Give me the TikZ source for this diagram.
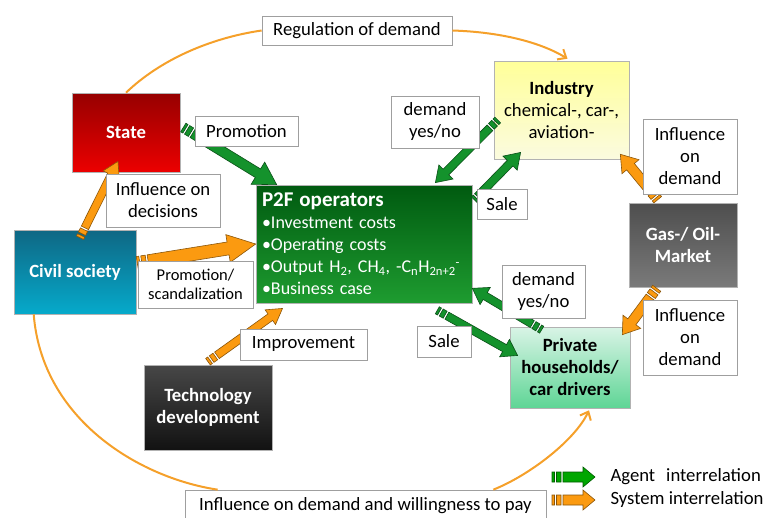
\documentclass[tikz,border=0pt]{standalone}
\usepackage{fontspec}
\setmainfont{Carlito}
\usetikzlibrary{calc, arrows.meta}

\definecolor{orangeline}{HTML}{F5A02A}
\definecolor{agentgreen}{HTML}{14922C}
\definecolor{systemorange}{HTML}{FB9A10}
\definecolor{stateTop}{HTML}{960000}
\definecolor{stateBot}{HTML}{EC0000}
\definecolor{civilTop}{HTML}{0E6784}
\definecolor{civilBot}{HTML}{06AACB}
\definecolor{techTop}{HTML}{474747}
\definecolor{techBot}{HTML}{121212}
\definecolor{gasTop}{HTML}{4E4E4E}
\definecolor{gasBot}{HTML}{7A7A7A}
\definecolor{indTop}{HTML}{FFFF99}
\definecolor{indBot}{HTML}{FBFBDF}
\definecolor{privTop}{HTML}{D9F4E6}
\definecolor{privBot}{HTML}{5ED595}
\definecolor{ptfTop}{HTML}{005A10}
\definecolor{ptfBot}{HTML}{1E9C30}

\tikzset{
  lbl/.style={draw=gray!75, fill=white, line width=0.7pt, align=center, inner sep=0pt, font=\fontsize{18.7}{22}\selectfont},
  actor/.style={draw=gray!60, line width=0.6pt, align=center, font=\fontsize{18.7}{22}\selectfont\bfseries},
  curve/.style={orangeline, line width=2pt},
}

% striped arrow: tail, tip, colour, body half width, head half width, head length
\newcommand{\sarrow}[6]{%
  \path let \p1=#1, \p2=#2 in \pgfextra{%
    \pgfmathsetmacro\saang{atan2((\y2)-(\y1),(\x2)-(\x1))}%
    \pgfmathsetmacro\salen{veclen((\x2)-(\x1),(\y2)-(\y1))}%
    \xdef\saang{\saang}\xdef\salen{\salen}\xdef\sax{\x1}\xdef\say{\y1}};
  \begin{scope}[shift={(\sax,\say)}, rotate=\saang, x=1pt, y=1pt]
    \filldraw[fill=#3, draw=#3!55!black, line width=0.6pt]
      (0,-#4) rectangle (2.5,#4)
      (4.5,-#4) rectangle (9,#4)
      (11,-#4) -- ({\salen-#6},-#4) -- ({\salen-#6},-#5) -- (\salen,0)
      -- ({\salen-#6},#5) -- ({\salen-#6},#4) -- (11,#4) -- cycle;
  \end{scope}}

\begin{document}
\begin{tikzpicture}[x=1pt, y=-1pt]
\useasboundingbox (0,0) rectangle (763,517);

% actors
\node[actor, text=white, top color=stateTop, bottom color=stateBot, minimum width=108pt, minimum height=79pt] (state) at (126,132.5) {State};
\node[actor, text=white, top color=civilTop, bottom color=civilBot, minimum width=122pt, minimum height=84pt] (civil) at (75,272) {Civil society};
\node[actor, text=white, top color=techTop, bottom color=techBot, minimum width=128pt, minimum height=85pt] (tech) at (208,407.5) {Technology\\development};
\node[actor, text=white, top color=gasTop, bottom color=gasBot, minimum width=108pt, minimum height=84pt] (gas) at (683,245) {Gas-/ Oil-\\Market};
\node[actor, top color=indTop, bottom color=indBot, minimum width=135pt, minimum height=98pt] (industry) at (561.5,110) {Industry\\\mdseries chemical-, car-,\\\mdseries aviation-};
\node[actor, top color=privTop, bottom color=privBot, minimum width=120pt, minimum height=81pt] (priv) at (570,367.5) {Private\\households/\\car drivers};
\node[actor, text=white, top color=ptfTop, bottom color=ptfBot, align=left, text width=204pt, inner xsep=6pt, minimum height=118pt, font=\fontsize{18}{22}\selectfont] (p2f) at (364,244)
  {{\fontsize{21}{24}\selectfont\bfseries P2F operators}\\
   •Investment costs\\
   •Operating costs\\
   \mbox{•Output H\textsubscript{2}, CH\textsubscript{4}, -C\textsubscript{n}H\textsubscript{2n+2}\textsuperscript{-}}\\
   •Business case};

% interrelations
\sarrow{($(state.east)+(3,-5)$)}{($(p2f.north west)+(21,0)$)}{agentgreen}{5}{13}{22}
\sarrow{($(civil.north)+(5,8)$)}{($(state.south)+(-8,-11)$)}{systemorange}{4}{9}{15}
\sarrow{($(civil.east)+(1,-9)$)}{(p2f.west)}{systemorange}{6.5}{14}{28}
\sarrow{($(tech.north)+(0,-3)$)}{($(p2f.south west)+(27,5)$)}{systemorange}{4}{9}{15}
\sarrow{($(industry.west)+(4,10)$)}{($(p2f.north east)+(-37,-2)$)}{agentgreen}{4}{10}{15}
\sarrow{($(p2f.north east)+(2,15)$)}{($(industry.south west)+(27,-7)$)}{agentgreen}{4}{10}{15}
\sarrow{($(gas.north west)+(29,-3)$)}{($(industry.south east)+(-9,-5)$)}{systemorange}{5}{11}{16}
\sarrow{($(gas.south west)+(28,1)$)}{($(priv.north east)+(-8,8)$)}{systemorange}{5}{11}{16}
\sarrow{($(priv.north west)+(32,3)$)}{($(p2f.south east)+(0,-15)$)}{agentgreen}{4}{10}{15}
\sarrow{($(p2f.south east)+(-35,7)$)}{($(priv.west)+(8,-12)$)}{agentgreen}{4}{10}{15}

% labels
\node[lbl, minimum width=103pt, minimum height=30pt] (promo) at (246.5,131) {Promotion};
\node[lbl, minimum width=114pt, minimum height=53pt] (infdec) at (163,200.5) {Influence on\\decisions};
\node[lbl, minimum width=115pt, minimum height=47pt, font=\fontsize{16.5}{19}\selectfont] (promscan) at (195.5,284.5) {Promotion/\\scandalization};
\node[lbl, minimum width=127pt, minimum height=31pt] (improve) at (303.5,344.5) {Improvement};
\node[lbl, minimum width=88pt, minimum height=52pt] (dyn1) at (435,122) {demand\\yes/no};
\node[lbl, minimum width=50pt, minimum height=30pt] (sale1) at (502,204) {Sale};
\node[lbl, minimum width=94pt, minimum height=75pt] (infdem1) at (690,156.5) {Influence\\on\\demand};
\node[lbl, minimum width=83pt, minimum height=53pt] (dyn2) at (543.5,291.5) {demand\\yes/no};
\node[lbl, minimum width=54pt, minimum height=31pt] (sale2) at (444,341.5) {Sale};
\node[lbl, minimum width=94pt, minimum height=75pt] (infdem2) at (690,337.5) {Influence\\on\\demand};
\node[lbl, minimum width=190pt, minimum height=29pt] (reg) at (357,30.5) {Regulation of demand};
\node[lbl, minimum width=361pt, minimum height=32pt] (infwill) at (365.5,506) {Influence on demand and willingness to pay};

% outer circle
\draw[curve] (state.north) .. controls (160,60) and (210,38) .. (reg.west);
\draw[curve, -{Straight Barb[length=7pt, width=12pt]}] (reg.east) .. controls (500,32) and (540,42) .. ($(industry.north)+(6,-2)$);
\draw[curve] ($(civil.south west)+(20,0)$) .. controls (42,420) and (140,478) .. ($(infwill.north west)+(33,0)$);
\draw[curve, -{Straight Barb[length=7pt, width=12pt]}] ($(infwill.north east)+(-53,0)$) .. controls (530,475) and (575,440) .. ($(priv.south)+(19,2)$);

% legend
\node[anchor=west, font=\fontsize{18.7}{22}\selectfont] (agent) at (607,477) {Agent\hspace{11pt}interrelation};
\node[anchor=west, font=\fontsize{18.7}{22}\selectfont] (system) at (607,500) {System interrelation};
\coordinate (lga) at (552,477);
\coordinate (lgs) at (552,500);
\sarrow{(lga)}{($(agent.west)+(-12,0)$)}{green!65!black}{5}{10}{12}
\sarrow{(lgs)}{($(system.west)+(-12,0)$)}{systemorange}{5}{10}{12}
\end{tikzpicture}
\end{document}
